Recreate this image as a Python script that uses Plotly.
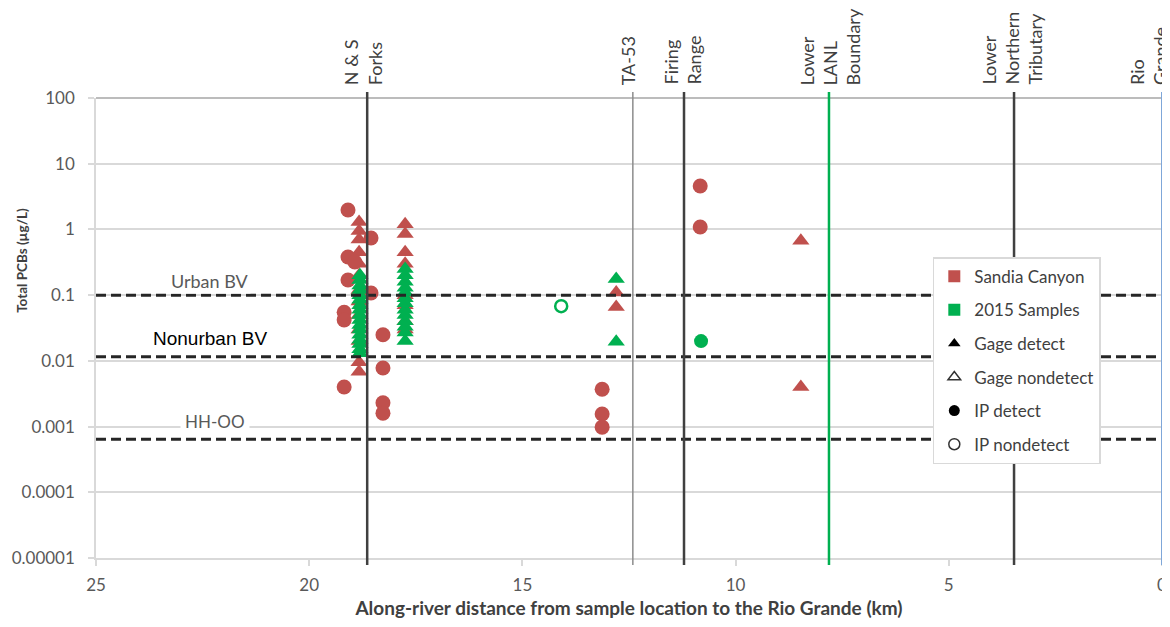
import plotly.graph_objects as go

# ---------------- data ----------------
site_names = ["N &amp; S<br>Forks", "TA-53", "Firing<br>Range",
              "Lower<br>LANL<br>Boundary", "Lower<br>Northern<br>Tributary",
              "Rio<br>Grande"]
site_km = [18.64, 12.41, 11.21, 7.81, 3.47, 0.0]
site_line_colors = ["#404040", "#8c8c8c", "#404040", "#00B050", "#404040", "#7fa7d9"]
site_line_widths = [2.5, 1.5, 2.5, 2.5, 2.5, 2]
site_label_shift = [-4, -4, -2, 1, -2, -13]

ref_names = ["Urban BV", "Nonurban BV", "HH-OO"]
ref_values = [0.1, 0.0115, 0.00064]

# Sandia Canyon, gage detects (triangles)
sandia_gage_km = [18.83, 18.83, 18.83, 18.83, 18.83, 18.83, 18.83, 18.83, 18.83, 18.83, 18.83, 18.83, 18.83,
                  17.75, 17.75, 17.75, 17.75, 17.75, 17.75, 17.75, 17.75,
                  12.8, 12.8, 8.47, 8.47]
sandia_gage_val = [1.3, 0.95, 0.7, 0.45, 0.3, 0.2, 0.12, 0.08, 0.05, 0.03, 0.02, 0.0095, 0.0068,
                   1.2, 0.85, 0.45, 0.3, 0.1, 0.07, 0.04, 0.03,
                   0.11, 0.066, 0.67, 0.004]

# Sandia Canyon, IP detects (circles)
sandia_ip_km = [19.09, 18.55, 19.09, 18.93, 19.09, 18.55, 19.18, 19.18, 18.27, 18.27,
                19.18, 18.27, 18.27, 13.13, 13.13, 13.13, 10.83, 10.83]
sandia_ip_val = [1.98, 0.74, 0.38, 0.32, 0.17, 0.108, 0.055, 0.042, 0.025, 0.0078,
                 0.004, 0.0023, 0.0016, 0.0037, 0.00155, 0.00098, 4.57, 1.09]

# 2015 samples, gage detects (triangles)
s2015_gage_km = [18.81, 18.81, 18.81, 18.81, 18.81, 18.81, 18.81, 18.81, 18.81, 18.81, 18.81, 18.81,
                 18.81, 18.81, 18.81, 18.81, 18.81,
                 17.75, 17.75, 17.75, 17.75, 17.75, 17.75, 17.75, 17.75, 17.75, 17.75, 17.75, 17.75, 17.75,
                 12.8, 12.8]
s2015_gage_val = [0.2, 0.17, 0.14, 0.12, 0.1, 0.085, 0.07, 0.06, 0.05, 0.042, 0.035, 0.03,
                  0.025, 0.021, 0.018, 0.015, 0.013,
                  0.25, 0.2, 0.16, 0.13, 0.11, 0.09, 0.075, 0.06, 0.05, 0.04, 0.033, 0.027, 0.02,
                  0.176, 0.0195]

# 2015 samples, IP detect / nondetect (circles)
s2015_ip_km = [10.81]
s2015_ip_val = [0.02]
s2015_ipnd_km = [14.09]
s2015_ipnd_val = [0.068]

x_ticks = [25, 20, 15, 10, 5, 0]
y_ticks = [0.00001, 0.0001, 0.001, 0.01, 0.1, 1, 10, 100]
y_tick_text = ["0.00001", "0.0001", "0.001", "0.01", "0.1", "1", "10", "100"]

legend_names = ["Sandia Canyon", "2015 Samples", "Gage detect", "Gage nondetect", "IP detect", "IP nondetect"]

RED = "#C0504D"
GREEN = "#00B050"
FONT = "Lato"

fig = go.Figure()

fig.add_trace(go.Scatter(x=sandia_gage_km, y=sandia_gage_val, mode="markers",
                         marker=dict(symbol="triangle-up", size=15, color=RED), showlegend=False))
fig.add_trace(go.Scatter(x=sandia_ip_km, y=sandia_ip_val, mode="markers",
                         marker=dict(symbol="circle", size=15, color=RED), showlegend=False))
fig.add_trace(go.Scatter(x=s2015_gage_km, y=s2015_gage_val, mode="markers",
                         marker=dict(symbol="triangle-up", size=15, color=GREEN), showlegend=False))
fig.add_trace(go.Scatter(x=s2015_ip_km, y=s2015_ip_val, mode="markers",
                         marker=dict(symbol="circle", size=14, color=GREEN), showlegend=False))
fig.add_trace(go.Scatter(x=s2015_ipnd_km, y=s2015_ipnd_val, mode="markers",
                         marker=dict(symbol="circle-open", size=12, color=GREEN, line=dict(width=2.5)),
                         showlegend=False))

# legend-only entries
leg_markers = [
    dict(symbol="square", size=12, color=RED),
    dict(symbol="square", size=12, color=GREEN),
    dict(symbol="triangle-up", size=11, color="#000000"),
    dict(symbol="triangle-up-open", size=11, color="#333333", line=dict(width=1.5)),
    dict(symbol="circle", size=11, color="#000000"),
    dict(symbol="circle-open", size=11, color="#333333", line=dict(width=1.5)),
]
for i, (nm, mk) in enumerate(zip(legend_names, leg_markers)):
    fig.add_trace(go.Scatter(x=[None], y=[None], mode="markers", name=nm, marker=mk,
                             legendgroup=f"g{i}", showlegend=True))

shapes = []
# top border line
shapes.append(dict(type="line", xref="paper", yref="paper", x0=0, x1=1, y0=1, y1=1,
                   line=dict(color="#a6a6a6", width=1.5), layer="below"))
# reference dashed lines
for v in ref_values:
    shapes.append(dict(type="line", xref="paper", yref="y", x0=0, x1=1, y0=v, y1=v,
                       line=dict(color="#262626", width=3, dash="10px,5px"), layer="above"))
# site vertical lines
for km, c, w in zip(site_km, site_line_colors, site_line_widths):
    shapes.append(dict(type="line", xref="x", yref="paper", x0=km, x1=km, y0=-0.015, y1=1.013,
                       line=dict(color=c, width=w), layer="above"))

annotations = []
for nm, km, sh in zip(site_names, site_km, site_label_shift):
    annotations.append(dict(x=km, y=1.024, xref="x", yref="paper", text=nm, showarrow=False,
                            textangle=-90, xanchor="center", yanchor="bottom", align="left",
                            xshift=sh, font=dict(family=FONT, size=18, color="#404040")))

annotations.append(dict(x=0.107, y=0.602, xref="paper", yref="paper", text="Urban BV", showarrow=False,
                        xanchor="center", yanchor="middle",
                        font=dict(family=FONT, size=18, color="#595959"), bgcolor="white"))
annotations.append(dict(x=0.107, y=0.478, xref="paper", yref="paper", text="Nonurban BV", showarrow=False,
                        xanchor="center", yanchor="middle",
                        font=dict(family="Liberation Sans", size=19, color="#000000")))
annotations.append(dict(x=0.112, y=0.296, xref="paper", yref="paper", text="HH-OO", showarrow=False,
                        xanchor="center", yanchor="middle",
                        font=dict(family=FONT, size=17, color="#595959"), bgcolor="white", borderpad=4))
# y-axis title
annotations.append(dict(x=-0.0694, y=0.646, xref="paper", yref="paper", text="<b>Total PCBs (µg/L)</b>",
                        showarrow=False, textangle=-90, xanchor="center", yanchor="middle",
                        font=dict(family=FONT, size=13.5, color="#404040")))

# page body has an 8px margin: figure is sized/margined to compensate
fig.update_layout(
    width=1162, height=619,
    margin=dict(l=88, r=8, t=90, b=69),
    paper_bgcolor="white", plot_bgcolor="white",
    font=dict(family=FONT, color="#595959"),
    shapes=shapes, annotations=annotations,
    legend=dict(x=0.785, y=0.654, xanchor="left", yanchor="top",
                bgcolor="white", bordercolor="#d9d9d9", borderwidth=1.5,
                font=dict(family=FONT, size=17, color="#404040"),
                traceorder="grouped", tracegroupgap=8.5),
    xaxis=dict(range=[25, 0], tickvals=x_ticks, ticktext=[str(t) for t in x_ticks],
               automargin=False,
               showgrid=False, zeroline=False, showline=True, linecolor="#d9d9d9", linewidth=1.5,
               ticks="outside", ticklen=6, tickcolor="#d9d9d9", tickwidth=1.5,
               ticklabelstandoff=5,
               tickfont=dict(family=FONT, size=17, color="#595959"),
               title=dict(text="<b>Along-river distance from sample location to the Rio Grande (km)</b>",
                          font=dict(family=FONT, size=19, color="#404040"), standoff=8)),
    yaxis=dict(type="log", range=[-5, 2], tickvals=y_ticks, ticktext=y_tick_text,
               automargin=False,
               showgrid=True, gridcolor="#d9d9d9", gridwidth=1.5, zeroline=False,
               showline=True, linecolor="#d9d9d9", linewidth=1.5,
               ticks="outside", ticklen=6, tickcolor="#d9d9d9", tickwidth=1.5,
               ticklabelstandoff=10,
               tickfont=dict(family=FONT, size=17, color="#595959")),
)

fig.write_html("out.html")
